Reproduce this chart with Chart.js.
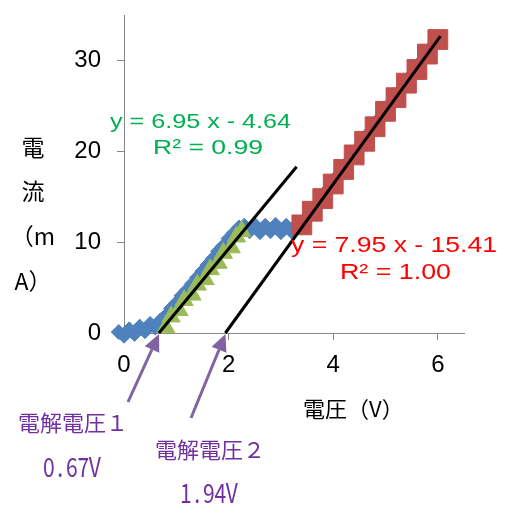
<!DOCTYPE html>
<html>
<head>
<meta charset="utf-8">
<script src="https://cdn.jsdelivr.net/npm/chart.js@4/dist/chart.umd.min.js"></script>
<style>
  html, body { margin: 0; padding: 0; background: #ffffff; }
  #wrap { width: 505px; height: 508px; position: relative; }
</style>
</head>
<body>
<div id="wrap"><canvas id="chart" width="505" height="508"></canvas></div>
<script>
// Full current–voltage sweep (V, mA)
const sweepVoltage = [-0.1, 0.0, 0.1, 0.2, 0.3, 0.4, 0.5, 0.6, 0.7, 0.8, 0.9,
  1.0, 1.1, 1.2, 1.3, 1.4, 1.5, 1.6, 1.7, 1.8, 1.9,
  2.0, 2.1, 2.2, 2.3, 2.4, 2.5, 2.6, 2.7, 2.8, 2.9,
  3.0, 3.1, 3.2, 3.3, 3.4, 3.5, 3.6, 3.7, 3.8, 3.9,
  4.0, 4.1, 4.2, 4.3, 4.4, 4.5, 4.6, 4.7, 4.8, 4.9,
  5.0, 5.1, 5.2, 5.3, 5.4, 5.5, 5.6, 5.7, 5.8, 5.9, 6.0];
const sweepCurrent = [0.1, -0.3, 0.4, -0.1, 0.7, 0.2, 1.0, 0.6, 1.4, 1.9, 2.7,
  3.3, 4.1, 4.7, 5.4, 6.1, 6.8, 7.5, 8.2, 9.0, 9.6,
  10.4, 11.0, 11.6, 11.8, 11.2, 11.9, 11.1, 11.8, 11.2, 11.9,
  11.1, 11.8, 11.2, 11.9, 11.6, 12.6, 13.4, 14.2, 15.0, 15.8,
  16.6, 17.4, 18.2, 18.9, 19.8, 20.5, 21.4, 22.1, 22.9, 23.7,
  24.5, 25.3, 26.1, 26.8, 27.7, 28.4, 29.2, 30.0, 30.9, 31.6, 32.4];

// First electrolysis region (fitted range)
const region1Voltage = [0.8, 0.9, 1.05, 1.15, 1.3, 1.4, 1.55, 1.65, 1.8, 1.9, 2.05, 2.15, 2.25];
const region1Current = [0.6, 1.8, 2.5, 3.6, 4.2, 5.3, 5.9, 7.0, 7.7, 8.8, 9.4, 10.6, 11.2];

// Second electrolysis region (fitted range)
const region2Voltage = [3.4, 3.6, 3.8, 4.0, 4.2, 4.4, 4.6, 4.8, 5.0, 5.2, 5.4, 5.6, 5.8, 6.0];
const region2Current = [11.9, 13.4, 14.8, 16.4, 18.0, 19.6, 21.1, 22.7, 24.4, 25.9, 27.5, 29.0, 30.7, 32.3];

// Linear fits: I = slope * V + intercept
const fitSlopes = [6.95, 7.95];
const fitIntercepts = [-4.64, -15.41];
const fitR2 = [0.99, 1.00];
const fitEndVoltage = [3.3, 6.05];

// Decomposition voltages (x-intercepts of the fits)
const decompVoltages = [0.67, 1.94];
const decompNames = ['電解電圧１', '電解電圧２'];

const xTicks = [0, 2, 4, 6];
const yTicks = [0, 10, 20, 30];

const pts = (xs, ys) => xs.map((x, i) => ({ x: x, y: ys[i] }));
const fitLine = (k) => {
  const m = fitSlopes[k], b = fitIntercepts[k];
  const x0 = -b / m, x1 = fitEndVoltage[k];
  return [{ x: x0, y: 0 }, { x: x1, y: m * x1 + b }];
};

const AXIS_GREY = '#868686';
const LATIN = '"Liberation Sans", Arial, sans-serif';
const CJK = '"Noto Sans CJK JP", "Noto Sans CJK SC", sans-serif';

function stretchedText(ctx, text, x, y, font, color, width) {
  ctx.save();
  ctx.font = font;
  ctx.fillStyle = color;
  ctx.textBaseline = 'alphabetic';
  ctx.textAlign = 'left';
  const w = ctx.measureText(text).width;
  ctx.translate(x, y);
  ctx.scale(width / w, 1);
  ctx.fillText(text, 0, 0);
  ctx.restore();
}

// half-width cells, like a fixed-pitch gothic face
function cellText(ctx, text, x, y, font, color, cell, sx) {
  ctx.save();
  ctx.font = font;
  ctx.fillStyle = color;
  ctx.textBaseline = 'middle';
  ctx.textAlign = 'center';
  for (let i = 0; i < text.length; i++) {
    ctx.save();
    ctx.translate(x + cell * (i + 0.5), y);
    ctx.scale(sx, 1);
    ctx.fillText(text[i], 0, 0);
    ctx.restore();
  }
  ctx.restore();
}

function arrow(ctx, fx, fy, tx, ty, color) {
  const ang = Math.atan2(ty - fy, tx - fx);
  const head = 17, half = 8;
  const bx = tx - Math.cos(ang) * head, by = ty - Math.sin(ang) * head;
  ctx.save();
  ctx.strokeStyle = color;
  ctx.fillStyle = color;
  ctx.lineWidth = 3;
  ctx.beginPath();
  ctx.moveTo(fx, fy);
  ctx.lineTo(bx, by);
  ctx.stroke();
  ctx.beginPath();
  ctx.moveTo(tx, ty);
  ctx.lineTo(bx + Math.sin(ang) * half, by - Math.cos(ang) * half);
  ctx.lineTo(bx - Math.sin(ang) * half, by + Math.cos(ang) * half);
  ctx.closePath();
  ctx.fill();
  ctx.restore();
}

const annotations = {
  id: 'annotations',
  afterDraw(chart) {
    const ctx = chart.ctx;
    const xs = chart.scales.x, ys = chart.scales.y;
    const fmtEq = (k) => 'y = ' + fitSlopes[k].toFixed(2) + ' x - ' + Math.abs(fitIntercepts[k]).toFixed(2);
    const fmtR = (k) => 'R² = ' + fitR2[k].toFixed(2);

    // fit equations
    stretchedText(ctx, fmtEq(0), 110, 128, '21px ' + LATIN, '#00B050', 181);
    stretchedText(ctx, fmtR(0), 153, 154, '21px ' + LATIN, '#00B050', 110);
    stretchedText(ctx, fmtEq(1), 291, 252, '22px ' + LATIN, '#FF0000', 206);
    stretchedText(ctx, fmtR(1), 340, 279, '22px ' + LATIN, '#FF0000', 111);

    // axis titles
    ctx.save();
    ctx.fillStyle = '#000000';
    ctx.font = '23px ' + CJK;
    ctx.textAlign = 'center';
    ctx.textBaseline = 'middle';
    const yTitle = ['電', '流', '（m', 'A）'];
    const yRows = [147, 191, 236, 281];
    yTitle.forEach((t, i) => ctx.fillText(t, 33, yRows[i]));
    ctx.font = '22px ' + CJK;
    ctx.textAlign = 'left';
    ctx.fillText('電圧（V）', 303, 409);
    ctx.restore();

    // decomposition voltage arrows and labels
    const purple = '#7030A0';
    const tails = [[128, 402], [191, 418]];
    const nameAt = [[18, 423], [155, 450]];
    const valueAt = [[43, 467], [180, 493]];
    decompVoltages.forEach((v, i) => {
      const tx = xs.getPixelForValue(v), ty = ys.getPixelForValue(0) + 1;
      arrow(ctx, tails[i][0], tails[i][1], tx, ty, '#8064A2');
      ctx.save();
      ctx.font = '22px ' + CJK;
      ctx.fillStyle = purple;
      ctx.textAlign = 'left';
      ctx.textBaseline = 'middle';
      ctx.fillText(decompNames[i], nameAt[i][0], nameAt[i][1]);
      ctx.restore();
      cellText(ctx, v.toFixed(2) + 'V', valueAt[i][0], valueAt[i][1], '27px ' + CJK, purple, 11.5, 0.78);
    });
  }
};

new Chart(document.getElementById('chart'), {
  type: 'scatter',
  data: {
    datasets: [
      {
        label: 'fit 1',
        type: 'line',
        data: fitLine(0),
        borderColor: '#000000',
        borderWidth: 3,
        pointRadius: 0,
        showLine: true,
        fill: false,
        clip: false,
        order: 0
      },
      {
        label: 'fit 2',
        type: 'line',
        data: fitLine(1),
        borderColor: '#000000',
        borderWidth: 3,
        pointRadius: 0,
        showLine: true,
        fill: false,
        clip: false,
        order: 0
      },
      {
        label: 'region 1',
        data: pts(region1Voltage, region1Current),
        pointStyle: 'triangle',
        pointRadius: 10.5,
        backgroundColor: '#9BBB59',
        borderColor: '#9BBB59',
        borderWidth: 1,
        clip: false,
        order: 1
      },
      {
        label: 'region 2',
        data: pts(region2Voltage, region2Current),
        pointStyle: 'rect',
        pointRadius: 14,
        backgroundColor: '#C0504D',
        borderColor: '#C0504D',
        borderWidth: 1,
        clip: false,
        order: 1
      },
      {
        label: 'sweep',
        data: pts(sweepVoltage, sweepCurrent),
        pointStyle: 'rectRot',
        pointRadius: 7.5,
        backgroundColor: '#4F81BD',
        borderColor: '#4F81BD',
        borderWidth: 1,
        clip: false,
        order: 2
      }
    ]
  },
  options: {
    responsive: false,
    animation: false,
    devicePixelRatio: 1,
    layout: { padding: { left: 64, right: 41, top: 8, bottom: 100 } },
    plugins: { legend: { display: false }, tooltip: { enabled: false } },
    scales: {
      x: {
        type: 'linear',
        min: 0,
        max: 6.5,
        afterBuildTicks: (s) => { s.ticks = xTicks.map(v => ({ value: v })); },
        afterFit: (s) => { s.height = 75; s.paddingLeft = 0; s.paddingRight = 0; },
        grid: { drawOnChartArea: false, drawTicks: true, tickLength: 7, color: AXIS_GREY },
        border: { color: AXIS_GREY, width: 1 },
        ticks: { color: '#000000', font: { family: LATIN, size: 24 }, padding: 11, maxRotation: 0 }
      },
      y: {
        type: 'linear',
        min: 0,
        max: 35,
        afterBuildTicks: (s) => { s.ticks = yTicks.map(v => ({ value: v })); },
        afterFit: (s) => { s.width = 60; s.paddingTop = 0; s.paddingBottom = 0; },
        grid: { drawOnChartArea: false, drawTicks: true, tickLength: 7, color: AXIS_GREY },
        border: { color: AXIS_GREY, width: 1 },
        ticks: { color: '#000000', font: { family: LATIN, size: 24 }, padding: 16 }
      }
    }
  },
  plugins: [annotations]
});
</script>
</body>
</html>
